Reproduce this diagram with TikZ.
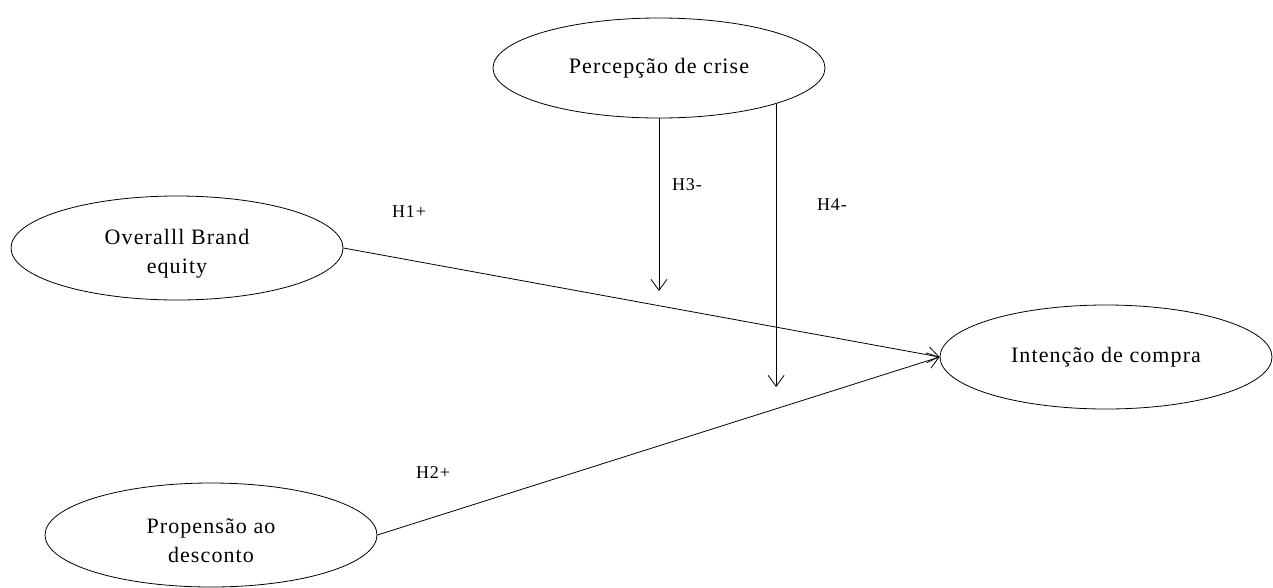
\documentclass[tikz,border=0pt]{standalone}
\usepackage{fontspec}
\setmainfont{Liberation Serif}[LetterSpace=5]
\usetikzlibrary{shapes.geometric,arrows.meta}
\begin{document}
\begin{tikzpicture}[x=1pt,y=-1pt,
  var/.style={ellipse,draw,line width=0.8pt,minimum width=332pt,minimum height=104pt,inner sep=0pt,align=center,font=\fontsize{22}{29}\selectfont},
  txt/.style={align=center,font=\fontsize{22}{29}\selectfont,inner sep=0pt,yshift=-6pt},
  conn/.style={line width=0.8pt,-{Straight Barb[length=11pt,width=16pt,line width=0.8pt]}},
  hlab/.style={font=\fontsize{18}{21}\selectfont,inner sep=0pt}]
\useasboundingbox (0,0) rectangle (1273,587);
\node[var,minimum height=100pt] (pc) at (659,68) {Percepção de crise};
\node[var,label={[txt]center:Overalll Brand\\equity}] (obe) at (177,248) {};
\node[var] (ic) at (1106,357) {Intenção de compra};
\node[var,label={[txt]center:Propensão ao\\desconto}] (pd) at (211,535) {};
\coordinate (h3end) at (659,291);
\coordinate (h4end) at (776,387);
\draw[conn] (obe.east) -- (ic.west);
\draw[conn] (pd.east) -- (ic.west);
\draw[conn] (pc.south -| h3end) -- (h3end);
\draw[conn] (pc.-17.2) -- (pc.-17.2 |- h4end);
\node[hlab] (l1) at (409,212) {H1+};
\node[hlab] (l2) at (433,473) {H2+};
\node[hlab] (l3) at (687,185) {H3-};
\node[hlab] (l4) at (832,205) {H4-};
\end{tikzpicture}
\end{document}
